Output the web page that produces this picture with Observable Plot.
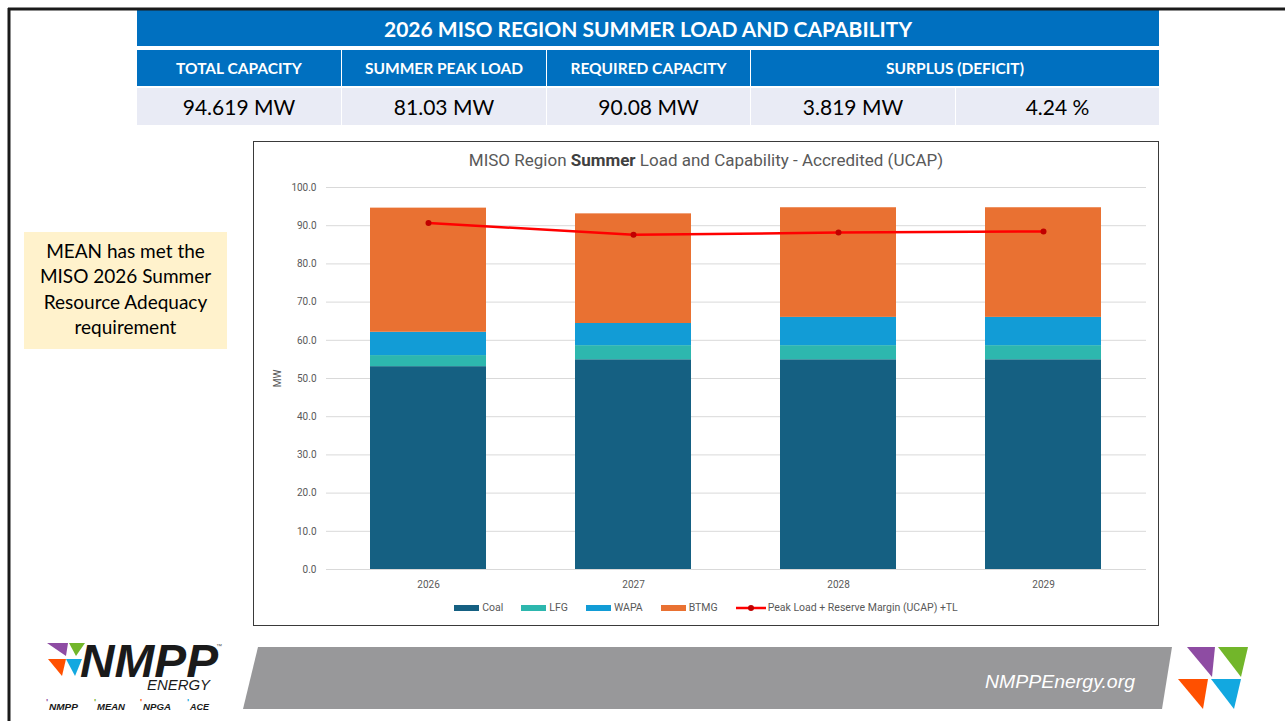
<!DOCTYPE html>
<html>
<head>
<meta charset="utf-8">
<script src="https://cdn.jsdelivr.net/npm/d3@7"></script>
<script src="https://cdn.jsdelivr.net/npm/@observablehq/plot@0.6"></script>
<style>
  html, body { margin:0; padding:0; background:#fff; }
  body { width:1285px; height:721px; position:relative; overflow:hidden; font-family: Lato, "Open Sans", sans-serif; }
  .abs { position:absolute; }
  .cell { position:absolute; display:flex; align-items:center; justify-content:center; box-sizing:border-box; }
  .title { background:#0070C0; color:#fff; font-weight:700; font-size:21px; }
  .head { background:#0070C0; color:#fff; font-weight:700; font-size:15.5px; }
  .val { background:#E9EBF5; color:#000; font-size:21px; }
  #chartbox { position:absolute; left:253px; top:141px; width:906px; height:485px; border:1px solid #3a3a3a; box-sizing:border-box; background:#fff; }
  #ctitle { position:absolute; left:0; width:100%; top:8px; text-align:center; font-family: Roboto, sans-serif; font-size:17px; color:#595959; }
  #plot { position:absolute; left:0px; top:33px; }
  #legend { position:absolute; left:0; width:100%; top:459px; display:flex; justify-content:center; font-family: Roboto, sans-serif; font-size:10.5px; color:#595959; align-items:center; }
  .li { display:flex; align-items:center; margin:0 9px; }
  .sw { width:25px; height:6px; margin-right:3px; }
  #callout { position:absolute; left:24px; top:232px; width:203px; height:117px; background:#FFF2CC; display:flex; align-items:center; justify-content:center; text-align:center; font-size:19px; line-height:25.5px; color:#000; padding-bottom:4px; box-sizing:border-box; }
</style>
</head>
<body>
<div id="table"></div>
<div id="callout">MEAN has met the<br>MISO 2026 Summer<br>Resource Adequacy<br>requirement</div>
<div id="chartbox">
  <div id="ctitle">MISO Region <b style="color:#404040">Summer</b> Load and Capability - Accredited (UCAP)</div>
  <div id="plot"></div>
  <div id="legend"></div>
</div>
<svg id="deco" class="abs" style="left:0;top:0" width="1285" height="721"></svg>
<script>
// ---- data ----
const years = ["2026", "2027", "2028", "2029"];
const sources = ["Coal", "LFG", "WAPA", "BTMG"];
const coal = [53.1, 54.9, 54.9, 54.9];
const lfg  = [2.9, 3.7, 3.7, 3.7];
const wapa = [6.1, 5.8, 7.4, 7.4];
const btmg = [32.5, 28.7, 28.7, 28.7];
const peakLoad = [90.7, 87.6, 88.2, 88.5];
const lineName = "Peak Load + Reserve Margin (UCAP) +TL";
const yTicks = [0, 10, 20, 30, 40, 50, 60, 70, 80, 90, 100];
const colors = ["#156082", "#2DB7AE", "#129CD6", "#E97132"];
const tableTitle = "2026 MISO REGION SUMMER LOAD AND CAPABILITY";
const tableHeads = ["TOTAL CAPACITY", "SUMMER PEAK LOAD", "REQUIRED CAPACITY", "SURPLUS (DEFICIT)"];
const tableVals = ["94.619 MW", "81.03 MW", "90.08 MW", "3.819 MW", "4.24 %"];

// ---- table ----
const tbl = document.getElementById("table");
function cell(cls, x, y, w, h, text) {
  const d = document.createElement("div");
  d.className = "cell " + cls;
  Object.assign(d.style, {left: x + "px", top: y + "px", width: w + "px", height: h + "px"});
  d.textContent = text;
  tbl.appendChild(d);
}
const cols = [[137, 341], [342, 546], [547, 750], [751, 955], [956, 1159]];
cell("title", 137, 10, 1022, 36, tableTitle);
cols.slice(0, 3).forEach((c, i) => cell("head", c[0], 50, c[1] - c[0], 36, tableHeads[i]));
cell("head", 751, 50, 408, 36, tableHeads[3]);
cols.forEach((c, i) => cell("val", c[0], 88, c[1] - c[0], 37, tableVals[i]));

// ---- chart ----
const data = years.flatMap((yr, i) => [
  {year: yr, source: "Coal", value: coal[i]},
  {year: yr, source: "LFG", value: lfg[i]},
  {year: yr, source: "WAPA", value: wapa[i]},
  {year: yr, source: "BTMG", value: btmg[i]}
]);
const lineData = years.map((yr, i) => ({year: yr, value: peakLoad[i]}));

const chart = Plot.plot({
  width: 904, height: 420,
  marginTop: 12, marginBottom: 26, marginLeft: 72, marginRight: 12,
  style: {fontFamily: "Roboto, sans-serif", fontSize: "10px", color: "#595959", background: "transparent"},
  x: {domain: years, paddingInner: 0.433, paddingOuter: 0.2165, label: null},
  y: {domain: [0, 100], label: "MW"},
  color: {domain: sources, range: colors},
  marks: [
    Plot.gridY(yTicks, {stroke: "#d9d9d9", strokeOpacity: 1, strokeWidth: 1}),
    Plot.axisY(yTicks, {tickSize: 0, tickPadding: 10, tickFormat: d => d.toFixed(1), label: "MW", labelAnchor: "center", labelArrow: "none", labelOffset: 53, fill: "#595959"}),
    Plot.axisX({tickSize: 0, tickPadding: 11, label: null, fill: "#595959"}),
    Plot.barY(data, {x: "year", y: "value", fill: "source", order: sources}),
    Plot.line(lineData, {x: "year", y: "value", stroke: "#FF0000", strokeWidth: 2.5}),
    Plot.dot(lineData, {x: "year", y: "value", fill: "#C00000", r: 3})
  ]
});
document.getElementById("plot").appendChild(chart);

// ---- legend ----
const leg = document.getElementById("legend");
sources.forEach((s, i) => {
  const it = document.createElement("div");
  it.className = "li";
  it.innerHTML = `<div class="sw" style="background:${colors[i]}"></div><span>${s}</span>`;
  leg.appendChild(it);
});
const li = document.createElement("div");
li.className = "li";
li.innerHTML = `<svg width="30" height="8" style="margin-right:2px"><line x1="0" y1="4" x2="30" y2="4" stroke="#FF0000" stroke-width="2.5"/><circle cx="15" cy="4" r="3" fill="#C00000"/></svg><span>${lineName}</span>`;
leg.appendChild(li);

// ---- decoration (frame, footer, logos) ----
const deco = d3.select("#deco");
deco.append("line").attr("x1", 8).attr("y1", 9).attr("x2", 1285).attr("y2", 9).attr("stroke", "#1a1a1a").attr("stroke-width", 3);
deco.append("line").attr("x1", 9).attr("y1", 8).attr("x2", 9).attr("y2", 721).attr("stroke", "#1a1a1a").attr("stroke-width", 3);
deco.append("polygon").attr("points", "258,647 1172,647 1162,709 243,709").attr("fill", "#98989A");
deco.append("text").attr("x", 985).attr("y", 688).attr("fill", "#fff").attr("font-family", "Liberation Sans, Arial, sans-serif")
  .attr("font-style", "italic").attr("font-size", 18).attr("textLength", 150).attr("lengthAdjust", "spacingAndGlyphs").text("NMPPEnergy.org");
// right logo
const tri = [
  ["1187,647 1215,647 1212,677", "#8E4CA3"],
  ["1218,647 1248,647 1241,677", "#72B62A"],
  ["1178,679 1208,679 1203,709", "#FF5000"],
  ["1211,679 1241,679 1234,709", "#12A8E0"]
];
tri.forEach(t => deco.append("polygon").attr("points", t[0]).attr("fill", t[1]));
// left logo
const tri2 = [
  ["47,643 68,643 66,656", "#8E4CA3"],
  ["69,643 85,643 76,656", "#72B62A"],
  ["48,659 66,659 62,676", "#FF5000"],
  ["66,659 82,659 75,676", "#12A8E0"]
];
tri2.forEach(t => deco.append("polygon").attr("points", t[0]).attr("fill", t[1]));
deco.append("text").attr("x", 80).attr("y", 677).attr("fill", "#1a1a1a").attr("font-family", "Liberation Sans, Arial, sans-serif")
  .attr("font-weight", 900).attr("font-style", "italic").attr("font-size", 47).attr("textLength", 138).attr("lengthAdjust", "spacingAndGlyphs").text("NMPP");
deco.append("text").attr("x", 216).attr("y", 648).attr("fill", "#555").attr("font-size", 6).attr("font-family", "Liberation Sans, sans-serif").text("™");
deco.append("text").attr("x", 147).attr("y", 690).attr("fill", "#1a1a1a").attr("font-family", "Liberation Sans, Arial, sans-serif")
  .attr("font-style", "italic").attr("font-size", 15).attr("textLength", 63).attr("lengthAdjust", "spacingAndGlyphs").text("ENERGY");
const subs = [["NMPP", 49, "#8E4CA3", 29], ["MEAN", 97, "#72B62A", 28], ["NPGA", 143, "#FF5000", 28], ["ACE", 190, "#12A8E0", 19]];
subs.forEach(s => {
  deco.append("text").attr("x", s[1] - 3).attr("y", 705).attr("fill", s[2]).attr("font-size", 9).attr("font-weight", 700).attr("font-family", "Liberation Sans, sans-serif").text("'");
  deco.append("text").attr("x", s[1]).attr("y", 710).attr("fill", "#1a1a1a").attr("font-family", "Liberation Sans, Arial, sans-serif")
    .attr("font-weight", 700).attr("font-style", "italic").attr("font-size", 9.5).attr("textLength", s[3]).attr("lengthAdjust", "spacingAndGlyphs").text(s[0]);
});
</script>
</body>
</html>
